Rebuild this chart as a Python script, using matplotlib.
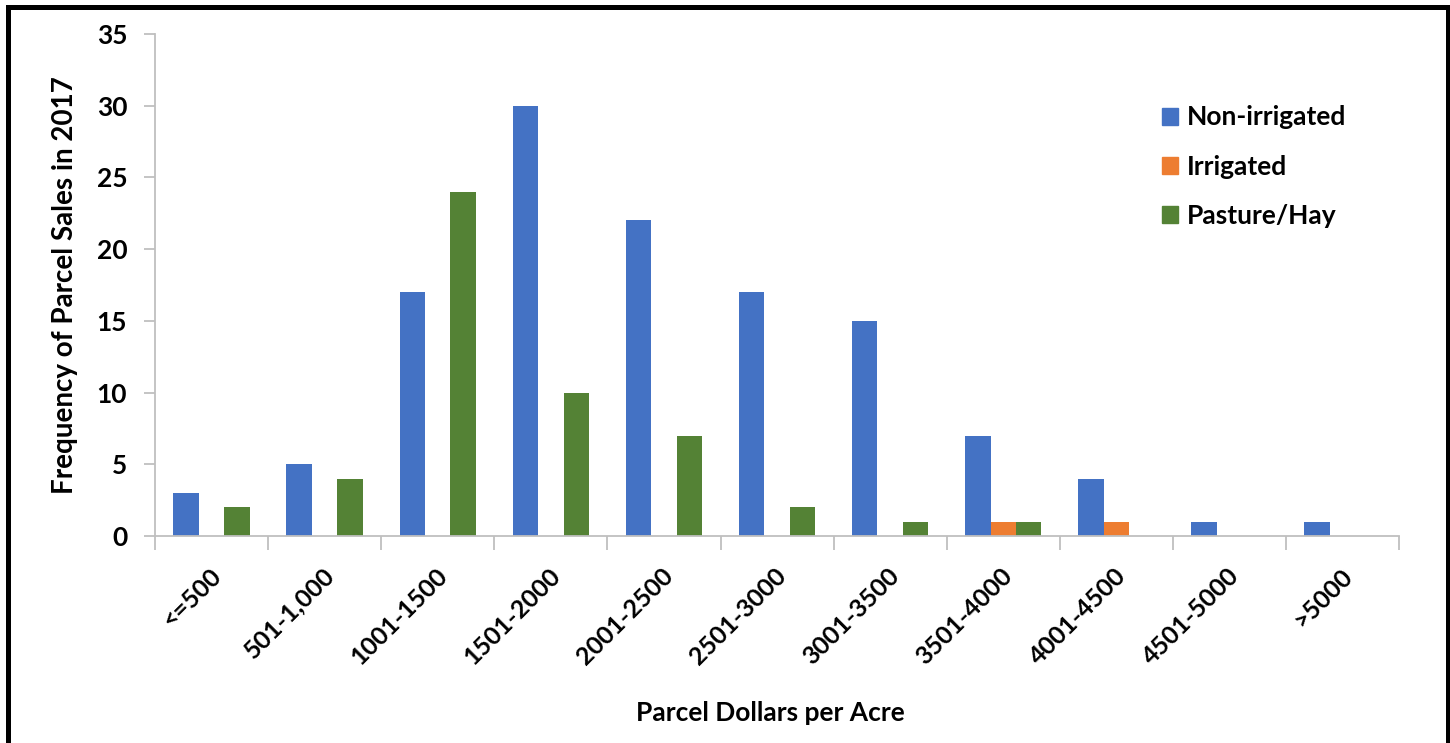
import matplotlib
matplotlib.use('Agg')
import matplotlib.pyplot as plt
import matplotlib.patches as mpatches
import numpy as np

categories = ['<=500', '501-1,000', '1001-1500', '1501-2000', '2001-2500',
              '2501-3000', '3001-3500', '3501-4000', '4001-4500',
              '4501-5000', '>5000']
non_irrigated = [3, 5, 17, 30, 22, 17, 15, 7, 4, 1, 1]
irrigated = [0, 0, 0, 0, 0, 0, 0, 1, 1, 0, 0]
pasture_hay = [2, 4, 24, 10, 7, 2, 1, 1, 0, 0, 0]

series = [
    ('Non-irrigated', non_irrigated, '#4472C4'),
    ('Irrigated', irrigated, '#ED7D31'),
    ('Pasture/Hay', pasture_hay, '#548235'),
]

plt.rcParams['font.family'] = ['Lato', 'DejaVu Sans']
plt.rcParams['font.weight'] = 'bold'

fig = plt.figure(figsize=(14.5, 7.43), dpi=100)
ax = fig.add_axes([0.1069, 0.2786, 0.858, 0.6756])

x = np.arange(len(categories))
width = 0.225
for i, (label, vals, color) in enumerate(series):
    ax.bar(x + (i - 1) * width, vals, width, color=color, label=label,
           zorder=2)

ax.set_xlim(-0.5, len(categories) - 0.5)
ax.set_ylim(0, 35)
ax.set_yticks(range(0, 36, 5))
ax.set_yticklabels([str(v) for v in range(0, 36, 5)], fontsize=19,
                   fontweight='bold')

# category ticks sit between groups
ax.set_xticks(np.arange(-0.5, len(categories), 1.0))
ax.set_xticklabels([])
ax.tick_params(axis='x', length=10, width=1.3, color='#BFBFBF')
ax.tick_params(axis='y', length=8, width=1.3, color='#BFBFBF', pad=12)

for xi, lab in zip(x, categories):
    ax.text(xi + 0.05, -2.5, lab, rotation=45, ha='right', va='center',
            rotation_mode='anchor', fontsize=18, fontweight='bold',
            transform=ax.transData)

for side in ['top', 'right']:
    ax.spines[side].set_visible(False)
for side in ['left', 'bottom']:
    ax.spines[side].set_color('#BFBFBF')
    ax.spines[side].set_linewidth(1.3)

fig.text(0.045, 0.6164, 'Frequency of Parcel Sales in 2017', rotation=90,
         ha='center', va='center', fontsize=20, fontweight='bold')
fig.text(0.531, 0.04, 'Parcel Dollars per Acre', ha='center',
         va='center', fontsize=19, fontweight='bold')

handles = [mpatches.Patch(color=c, label=l) for l, _, c in series]
fig.legend(handles=handles, loc='upper left',
           bbox_to_anchor=(0.785, 0.89), frameon=False,
           handlelength=0.6, handleheight=0.6, handletextpad=0.35,
           labelspacing=0.95, prop={'weight': 'bold', 'size': 19})

# black frame around the whole picture
fig.patches.append(mpatches.Rectangle(
    (7.5 / 1450, -0.01), 1440 / 1450, 1 - 6.5 / 743 + 0.01,
    transform=fig.transFigure, fill=False, edgecolor='black',
    linewidth=3.6, zorder=10))

fig.savefig('out.png', dpi=100, facecolor='white')
